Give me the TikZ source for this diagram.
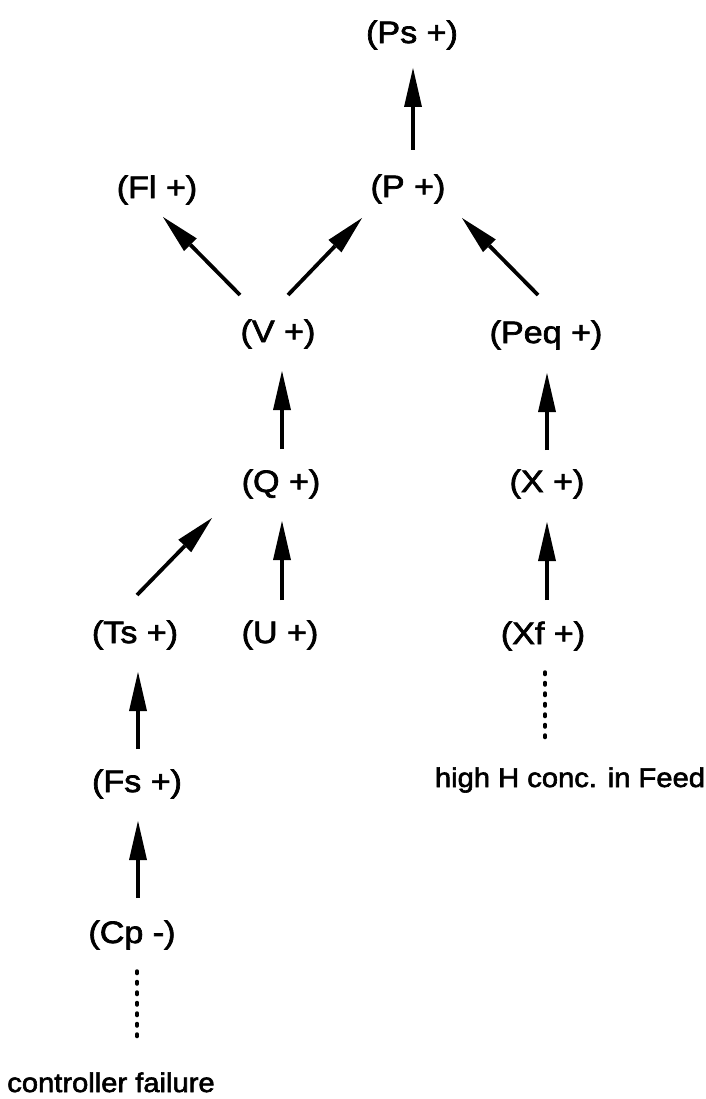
\documentclass[tikz,border=0pt]{standalone}
\usepackage{fontspec}
\setmainfont{Liberation Sans}
\newfontfamily\nodefont[FakeStretch=1.1,FakeBold=2.2]{Liberation Sans}
\newfontfamily\causefont[FakeStretch=1.08,FakeBold=2.2]{Liberation Sans}
\usetikzlibrary{arrows.meta}
\begin{document}
\begin{tikzpicture}[x=1pt,y=-1pt,
  lbl/.style={font=\nodefont\fontsize{31}{34}\selectfont, inner sep=0pt},
  cause/.style={font=\causefont\fontsize{27}{30}\selectfont, inner sep=0pt, anchor=base},
  arr/.style={line width=3.8pt, -{Triangle[length=39pt,width=18pt,line width=0pt]}},
  dotline/.style={line width=3.5pt, line cap=round, dash pattern=on 2.5pt off 8pt}]
\useasboundingbox (0,0) rectangle (705,1099);
% nodes
\node[lbl] (Ps)  at (412,35)  {(Ps +)};
\node[lbl] (P)   at (408,189) {(P +)};
\node[lbl] (Fl)  at (157,190) {(Fl +)};
\node[lbl] (V)   at (278,334) {(V +)};
\node[lbl] (Peq) at (546,335) {(Peq +)};
\node[lbl] (Q)   at (281,484) {(Q +)};
\node[lbl] (X)   at (547,484) {(X +)};
\node[lbl] (Ts)  at (135,635) {(Ts +)};
\node[lbl] (U)   at (280,635) {(U +)};
\node[lbl] (Xf)  at (543,636) {(Xf +)};
\node[lbl] (Fs)  at (137,784) {(Fs +)};
\node[lbl] (Cp)  at (132,935) {(Cp -)};
\node[cause] (ctrl) at (111,1092) {controller failure};
\node[cause] (feed) at (570,787) {high H conc. in Feed};
% arrows
\draw[arr] ([shift={(5,-39)}]P.center)   -- ([shift={(1,33)}]Ps.center);
\draw[arr] ([shift={(-38,-39)}]V.center) -- ([shift={(6,27)}]Fl.center);
\draw[arr] ([shift={(10,-39)}]V.center)  -- ([shift={(-46,29)}]P.center);
\draw[arr] ([shift={(-8,-40)}]Peq.center) -- ([shift={(54,29)}]P.center);
\draw[arr] ([shift={(1,-35)}]Q.center)   -- ([shift={(4,37)}]V.center);
\draw[arr] ([shift={(0,-34)}]X.center)   -- ([shift={(1,38)}]Peq.center);
\draw[arr] ([shift={(2,-40)}]Ts.center)  -- ([shift={(-69,34)}]Q.center);
\draw[arr] ([shift={(2,-35)}]U.center)   -- ([shift={(1,37)}]Q.center);
\draw[arr] ([shift={(4,-36)}]Xf.center)  -- ([shift={(0,38)}]X.center);
\draw[arr] ([shift={(1,-35)}]Fs.center)  -- ([shift={(3,37)}]Ts.center);
\draw[arr] ([shift={(6,-37)}]Cp.center)  -- ([shift={(1,37)}]Fs.center);
% dotted links
\draw[dotline] ([shift={(5,36)}]Cp.center) -- ([shift={(26,-49)}]ctrl.base);
\draw[dotline] ([shift={(2,36)}]Xf.center) -- ([shift={(-25,-43)}]feed.base);
\end{tikzpicture}
\end{document}
